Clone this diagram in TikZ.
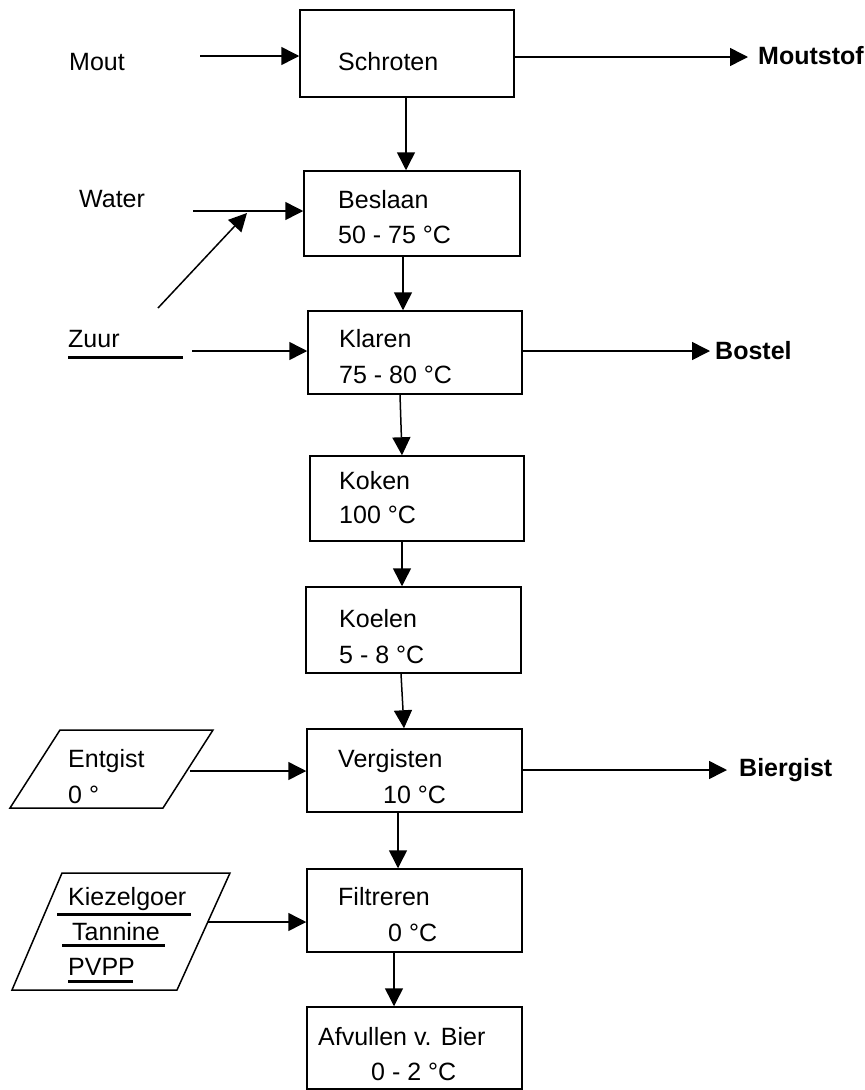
\documentclass[tikz,border=0pt]{standalone}
\usepackage{fontspec}
\setmainfont{Liberation Sans}
\usetikzlibrary{arrows.meta}
\begin{document}
\begin{tikzpicture}[x=1pt,y=-1pt,
  lw/.style={line width=1.5pt},
  procbox/.style={draw,lw,rectangle,inner sep=0pt,minimum width=#1},
  lbl/.style={anchor=base west,inner sep=0pt,font=\fontsize{25}{30}\selectfont},
  blbl/.style={lbl,font=\fontsize{25}{30}\selectfont\bfseries},
  arr/.style={lw,-{Triangle[length=18pt,width=18pt]}},
  uline/.style={line width=3pt}]
\useasboundingbox (0,0) rectangle (865,1090);
% process boxes
\node[procbox=214pt,minimum height=87pt] (schroten) at (407,53.5) {};
\node[procbox=216pt,minimum height=85pt] (beslaan) at (412,213.5) {};
\node[procbox=214pt,minimum height=83pt] (klaren) at (415,352.5) {};
\node[procbox=214pt,minimum height=85pt] (koken) at (417,498.5) {};
\node[procbox=215pt,minimum height=86pt] (koelen) at (413.5,630) {};
\node[procbox=215pt,minimum height=83pt] (vergisten) at (414.5,770.5) {};
\node[procbox=215pt,minimum height=83pt] (filtreren) at (414.5,910.5) {};
\node[procbox=215pt,minimum height=82pt] (afvullen) at (414.5,1048) {};
% box texts
\node[lbl] (tschroten) at (338,70) {Schroten};
\node[lbl] (tbeslaan1) at (338,208) {Beslaan};
\node[lbl] (tbeslaan2) at (338,243) {50 - 75 °C};
\node[lbl] (tklaren1) at (339,347) {Klaren};
\node[lbl] (tklaren2) at (339,383) {75 - 80 °C};
\node[lbl] (tkoken1) at (339,489) {Koken};
\node[lbl] (tkoken2) at (339,523) {100 °C};
\node[lbl] (tkoelen1) at (339,627) {Koelen};
\node[lbl] (tkoelen2) at (339,663) {5 - 8 °C};
\node[lbl] (tverg1) at (338,767) {Vergisten};
\node[lbl] (tverg2) at (383,803) {10 °C};
\node[lbl] (tfilt1) at (338,905) {Filtreren};
\node[lbl] (tfilt2) at (388,941) {0 °C};
\node[lbl] (tafv1) at (318,1045) {Afvullen v. Bier};
\node[lbl] (tafv2) at (371,1080) {0 - 2 °C};
% inputs
\node[lbl] (mout) at (69,70) {Mout};
\node[lbl] (water) at (79,207) {Water};
\node[lbl] (zuur) at (68,347) {Zuur};
\draw[uline] (68,357) -- (183,357);
% outputs
\node[blbl] (moutstof) at (758,64) {Moutstof};
\node[blbl] (bostel) at (715,359) {Bostel};
\node[blbl] (biergist) at (739,776) {Biergist};
% parallelograms
\draw[lw] (60,730) -- (213,730) -- (163,808) -- (10,808) -- cycle;
\node[lbl] (entgist) at (68,767) {Entgist};
\node[lbl] (entgist2) at (68,803) {0 °};
\draw[lw] (62,873) -- (230,873) -- (177,990) -- (12,990) -- cycle;
\node[lbl] (kiezel) at (68,905) {Kiezelgoer};
\node[lbl] (tannine) at (72,940) {Tannine};
\node[lbl] (pvpp) at (68,975) {PVPP};
\draw[uline] (57,914) -- (191,914);
\draw[uline] (62,945) -- (165,945);
\draw[uline] (68,981) -- (133,981);
% connector coordinates
\coordinate (moutS) at (200,56);
\coordinate (moutstofE) at (748,57);
\coordinate (waterS) at (193,211);
\coordinate (zuurD) at (158,308);
\coordinate (zuurDE) at (247,213);
\coordinate (zuurS) at (192,351);
\coordinate (bostelE) at (710,351);
\coordinate (entS) at (190,771);
\coordinate (biergistE) at (727,770);
\coordinate (kiezS) at (208,922);
% horizontal arrows
\draw[arr] (moutS) -- (schroten.west |- moutS);
\draw[arr] (schroten.east |- moutstofE) -- (moutstofE);
\draw[arr] (waterS) -- (beslaan.west |- waterS);
\draw[arr] (zuurD) -- (zuurDE);
\draw[arr] (zuurS) -- (klaren.west |- zuurS);
\draw[arr] (klaren.east |- bostelE) -- (bostelE);
\draw[arr] (entS) -- (vergisten.west |- entS);
\draw[arr] (vergisten.east |- biergistE) -- (biergistE);
\draw[arr] (kiezS) -- (filtreren.west |- kiezS);
% vertical arrows
\draw[arr] (schroten.south -| 406,0) -- (beslaan.north -| 406,0);
\draw[arr] (beslaan.south -| 403,0) -- (klaren.north -| 403,0);
\draw[arr] (klaren.south -| 400,0) -- (koken.north -| 402,0);
\draw[arr] (koken.south -| 402,0) -- (koelen.north -| 402,0);
\draw[arr] (koelen.south -| 401,0) -- (vergisten.north -| 404,0);
\draw[arr] (vergisten.south -| 398,0) -- (filtreren.north -| 398,0);
\draw[arr] (filtreren.south -| 394,0) -- (afvullen.north -| 394,0);
\end{tikzpicture}
\end{document}
